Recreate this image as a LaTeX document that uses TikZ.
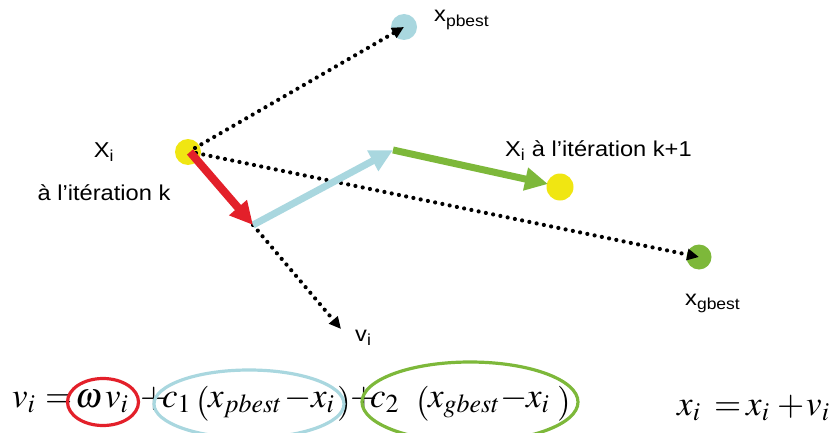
\documentclass[tikz,border=0pt]{standalone}
\usepackage{mathptmx}
\usepackage{fontspec}
\setmainfont{Liberation Sans}
\usetikzlibrary{arrows.meta,shapes.geometric}
\definecolor{pyellow}{HTML}{F0E612}
\definecolor{pblue}{HTML}{A9D7DF}
\definecolor{pgreen}{HTML}{7DB83A}
\definecolor{pred}{HTML}{E3202A}
\newcommand{\wide}[1]{\scalebox{1.1}[1]{#1}}
\tikzset{
  pt/.style={circle,inner sep=0pt,minimum size=26pt},
  dots/.style={line width=4.2pt,line cap=round,dash pattern=on 0pt off 7.4pt,
    -{Triangle[length=12pt,width=11pt,line cap=butt]}},
  fat/.style={line width=7.5pt,-{Triangle[length=23pt,width=22pt]}},
  lbl/.style={font=\fontsize{21.5}{24}\selectfont,inner sep=0pt},
  eqp/.style={font=\fontsize{35}{42}\selectfont,inner sep=0pt,anchor=base west},
  ring/.style={ellipse,line width=3.2pt,inner sep=0pt}
}
\begin{document}
\begin{tikzpicture}[x=1pt,y=1pt]
\useasboundingbox (0,0) rectangle (834,432);
% points
\node[pt,fill=pyellow] (xi) at (188,280) {};
\node[pt,fill=pblue] (pb) at (404,405) {};
\node[pt,fill=pgreen,minimum size=25pt] (gb) at (699,175) {};
\node[pt,fill=pyellow,minimum size=27pt] (xn) at (560,245) {};
\coordinate (xic) at (190,280);
\coordinate (rend) at (253,207);
\coordinate (bend) at (393,282);
\coordinate (gend) at (548,248);
\coordinate (vend) at (341,103);
% dotted lines
\draw[dots] (195,284) -- (pb.center);
\draw[dots] (196,279) -- (gb.center);
\draw[dots] (rend) -- (vend);
% thick arrows
\draw[pblue,fat,line width=7pt] (rend) -- (bend);
\draw[pgreen,fat,line width=7pt] (bend) -- (gend);
\draw[pred,fat,line width=8pt] (xic) -- (rend);
% labels
\node[lbl] (lxi) at (104,280) {\wide{X\textsubscript{i}}};
\node[lbl,anchor=base] (lk) at (104,232) {\wide{à l’itération k}};
\node[lbl,anchor=base west] (lpb) at (434,410) {\wide{x\textsubscript{pbest}}};
\node[lbl,anchor=base west] (lk1) at (505,276) {\wide{X\textsubscript{i} à l’itération k+1}};
\node[lbl,anchor=base west] (lgb) at (685,127) {\wide{x\textsubscript{gbest}}};
\node[lbl,anchor=base west] (lv) at (355,91) {\wide{v\textsubscript{i}}};
% equation 1
\node[eqp] (e1) at (12,25) {$v_i$};
\node[eqp] (e2) at (45,25) {$=$};
\node[eqp] (e3) at (75,25) {$\omega$};
\node[eqp] (e4) at (105,25) {$v_i$};
\node[eqp] (e5) at (140,25) {$+$};
\node[eqp] (e6) at (162,25) {$c_1$};
\node[eqp] (e7) at (196,20) {$($};
\node[eqp] (e8) at (208,25) {$x_{pbest}$};
\node[eqp] (e9) at (284,25) {$-$};
\node[eqp] (e10) at (311,25) {$x_i$};
\node[eqp] (e11) at (337,20) {$)$};
\node[eqp] (e12) at (350,25) {$+$};
\node[eqp] (e13) at (370,25) {$c_2$};
\node[eqp] (e14) at (416,20) {$($};
\node[eqp] (e15) at (428,25) {$x_{gbest}$};
\node[eqp] (e16) at (500,25) {$-$};
\node[eqp] (e17) at (526,25) {$x_i$};
\node[eqp] (e18) at (557,20) {$)$};
% equation 2
\node[eqp] (f1) at (677,17) {$x_i$};
\node[eqp] (f2) at (714,17) {$=$};
\node[eqp] (f3) at (746,17) {$x_i$};
\node[eqp] (f4) at (777,17) {$+$};
\node[eqp] (f5) at (806,17) {$v_i$};
% rings
\node[ring,draw=pred,minimum width=71pt,minimum height=47pt] (r1) at (103,30) {};
\node[ring,draw=pblue,minimum width=190pt,minimum height=68pt] (r2) at (249,28) {};
\node[ring,draw=pgreen,minimum width=216pt,minimum height=80pt] (r3) at (470,30) {};
\end{tikzpicture}
\end{document}
